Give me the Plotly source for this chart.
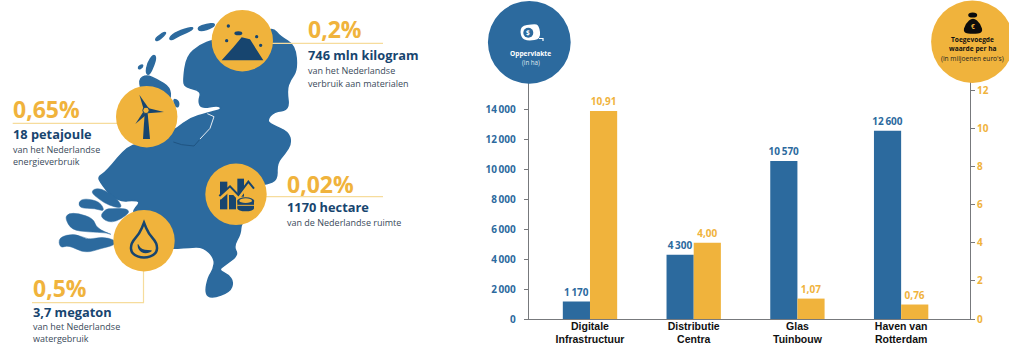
import plotly.graph_objects as go

W, H = 1009, 345

# Bar chart data
categories = ["Digitale<br>Infrastructuur", "Distributie<br>Centra", "Glas<br>Tuinbouw", "Haven van<br>Rotterdam"]
oppervlakte_ha = [1170, 4300, 10570, 12600]
waarde_per_ha = [10.91, 4.00, 1.07, 0.76]
oppervlakte_labels = ["1\u2009170", "4\u2009300", "10\u2009570", "12\u2009600"]
waarde_labels = ["10,91", "4,00", "1,07", "0,76"]
left_ticks = [0, 2000, 4000, 6000, 8000, 10000, 12000, 14000]
left_tick_labels = ["0", "2\u2009000", "4\u2009000", "6\u2009000", "8\u2009000", "10\u2009000", "12\u2009000", "14\u2009000"]
right_ticks = [0, 2, 4, 6, 8, 10, 12]

BLUE = "#2c6a9e"
ORANGE = "#f0b33c"
NAVY = "#17456f"
RULE = "#f6dc9c"
GREY = "#77797c"
BODY = "#3a4a5a"
SANS = "Open Sans"
ARIAL = "Liberation Sans"


def px(x):
    return x / W


def py(y):
    return 1 - y / H


def scaled(points):
    # Outlines are noted at three times pixel size
    return [(x / 3, y / 3) for x, y in points]


def smooth_path(points, closed=True):
    pts = [(px(x), py(y)) for x, y in points]
    if not closed:
        return "M" + " L".join(f"{x:.5f},{y:.5f}" for x, y in pts)
    mids = [((pts[i][0] + pts[(i + 1) % len(pts)][0]) / 2,
             (pts[i][1] + pts[(i + 1) % len(pts)][1]) / 2) for i in range(len(pts))]
    d = f"M{mids[-1][0]:.5f},{mids[-1][1]:.5f}"
    for p, m in zip(pts, mids):
        d += f" Q{p[0]:.5f},{p[1]:.5f} {m[0]:.5f},{m[1]:.5f}"
    return d + " Z"


def poly_path(points):
    return "M" + " L".join(f"{px(x):.5f},{py(y):.5f}" for x, y in points) + " Z"


shapes = []


def add_poly(points, color, smooth=True, swell=0):
    shapes.append(dict(type="path", xref="paper", yref="paper", layer="above",
                       path=smooth_path(points) if smooth else poly_path(points),
                       fillcolor=color, line=dict(width=swell, color=color)))


def add_stroke(points, color, width):
    shapes.append(dict(type="path", xref="paper", yref="paper", layer="above",
                       path=smooth_path(points, closed=False),
                       line=dict(color=color, width=width)))


def add_ellipse(cx, cy, rx, ry, color, line_color=None, line_width=0):
    shapes.append(dict(type="circle", xref="paper", yref="paper", layer="above",
                       x0=px(cx - rx), x1=px(cx + rx), y0=py(cy + ry), y1=py(cy - ry),
                       fillcolor=color,
                       line=dict(color=line_color or color, width=line_width)))


# Map of the Netherlands
MAINLAND = [
    (560, 168), (600, 135), (640, 120), (700, 110), (780, 105), (818, 82), (840, 110), (885, 135),
    (892, 210), (870, 240), (860, 270), (868, 330), (822, 334), (800, 360), (815, 375), (865, 395),
    (874, 430), (855, 460), (830, 490), (832, 540), (800, 552), (770, 555), (760, 620), (722, 672),
    (722, 700), (700, 740), (715, 765), (675, 795), (655, 810), (685, 825), (700, 845), (690, 875),
    (635, 895), (615, 880), (625, 830), (640, 810), (645, 775), (610, 740), (565, 742), (535, 745),
    (490, 745), (440, 740), (390, 640), (425, 605), (395, 600), (370, 605), (335, 590), (300, 545),
    (295, 530), (320, 515), (385, 435), (440, 430), (500, 428), (515, 395), (530, 385), (570, 355),
    (620, 340), (640, 335), (665, 328), (655, 315), (605, 325), (595, 305), (605, 272), (555, 262),
    (550, 240),
]
NOORD_HOLLAND = [(430, 290), (415, 238), (440, 225), (470, 238), (510, 262), (512, 300), (480, 320), (440, 320)]
NH_SLIVER = [(520, 295), (537, 305), (535, 322), (525, 318)]
TEXEL = [(460, 163), (468, 172), (462, 195), (448, 225), (438, 220), (442, 190)]
WADDEN_DOT = [(415, 200), (428, 193), (428, 202), (416, 208)]
VLIELAND = [(465, 115), (495, 95), (498, 102), (470, 125)]
TERSCHELLING = [(508, 112), (530, 95), (578, 80), (578, 90), (540, 105), (512, 122)]
AMELAND = [(592, 82), (620, 73), (645, 70), (640, 82), (600, 95)]
GOEREE = [(270, 575), (295, 562), (340, 585), (365, 615), (360, 625), (325, 615), (300, 600)]
SCHOUWEN = [(235, 605), (255, 595), (300, 605), (315, 635), (285, 625), (240, 625)]
THOLEN = [(318, 626), (298, 650), (335, 672), (390, 640), (380, 625), (335, 626)]
BEVELAND = [(195, 655), (205, 640), (235, 640), (280, 655), (290, 685), (340, 706), (320, 698), (265, 696), (215, 690)]
ZEEUWS_VLAANDEREN = [(175, 712), (225, 700), (265, 720), (305, 710), (345, 720), (345, 735), (305, 745), (255, 760), (205, 735), (180, 745)]
FLEVOLAND_SLIT = [(600, 417), (630, 385), (642, 350), (622, 341)]
FLEVOLAND_SHADE = [(520, 426), (545, 434), (582, 438), (598, 420)]

for outline in (MAINLAND, NOORD_HOLLAND, NH_SLIVER, TEXEL, WADDEN_DOT, VLIELAND, TERSCHELLING, AMELAND):
    add_poly(scaled(outline), BLUE, swell=1.5)
for outline in (GOEREE, SCHOUWEN, THOLEN, BEVELAND, ZEEUWS_VLAANDEREN):
    add_poly(scaled(outline), BLUE, swell=0.5)
add_stroke(scaled(FLEVOLAND_SLIT), "#e8eef4", 1)
add_stroke(scaled(FLEVOLAND_SHADE), "#1f5482", 1)

# Leader rules beside the map
add_stroke([(266, 43.3), (383, 43.3)], RULE, 1.2)
add_stroke([(12.7, 123.3), (117, 123.3)], RULE, 1.2)
add_stroke([(266, 196.7), (383, 196.7)], RULE, 1.2)
add_stroke([(143.5, 268), (143.5, 302.7), (32, 302.7)], RULE, 1.2)

# Yellow discs on the map
for cx, cy in [(242.3, 40.7), (146.7, 116.7), (236, 194.3), (144, 240.7)]:
    add_ellipse(cx, cy, 30.7, 30.7, ORANGE)

# Heap icon
add_poly(scaled([(665, 181), (700, 142), (725, 112), (750, 118), (790, 181)]), NAVY, smooth=False)
for x, y, r in [(685, 78, 5), (770, 110, 5), (680, 122, 5), (782, 136, 5)]:
    add_ellipse(x / 3, y / 3, r / 3, r / 3, NAVY)
add_ellipse(715 / 3, 100 / 3, 12 / 3, 6 / 3, NAVY)

# Wind turbine icon
add_poly(scaled([(434, 340), (443, 340), (450, 417), (429, 417)]), NAVY, smooth=False)
add_poly(scaled([(431, 328), (418, 284), (446, 325)]), NAVY, smooth=False)
add_poly(scaled([(446, 325), (492, 336), (443, 340)]), NAVY, smooth=False)
add_poly(scaled([(430, 335), (406, 372), (438, 345)]), NAVY, smooth=False)
add_ellipse(438 / 3, 331 / 3, 3.2, 3.2, ORANGE, NAVY, 1)

# Bars, trend line and coins icon
add_poly(scaled([(660, 545), (682, 545), (682, 628), (660, 628)]), NAVY, smooth=False)
add_poly(scaled([(687, 585), (708, 585), (708, 628), (687, 628)]), NAVY, smooth=False)
add_poly(scaled([(712, 536), (732, 536), (732, 590), (712, 590)]), NAVY, smooth=False)
add_stroke(scaled([(658, 595), (690, 566), (715, 592), (745, 552), (762, 575)]), ORANGE, 4)
add_stroke(scaled([(658, 588), (690, 559), (715, 585), (745, 545), (762, 566)]), NAVY, 2)
add_poly(scaled([(712, 605), (762, 605), (762, 625), (712, 625)]), NAVY, smooth=False)
add_ellipse(737 / 3, 625 / 3, 25 / 3, 9 / 3, NAVY)
add_ellipse(737 / 3, 603 / 3, 26 / 3, 11 / 3, NAVY)
add_ellipse(737 / 3, 602 / 3, 19 / 3, 7 / 3, ORANGE)
add_stroke(scaled([(712, 616), (762, 616)]), ORANGE, 1)

# Water drop icon, its tip held sharp by the repeated point
DROP = [(432, 668), (432, 668), (432, 668), (445, 700), (472, 730), (470, 762), (432, 776), (394, 762), (392, 730), (419, 700)]
shapes.append(dict(type="path", xref="paper", yref="paper", layer="above",
                   path=smooth_path(scaled(DROP)), fillcolor=ORANGE,
                   line=dict(color=NAVY, width=2.5)))
add_poly(scaled([(412, 726), (424, 750), (464, 750), (436, 763), (414, 750)]), NAVY)

# Header disc of the area axis, with a tape measure
add_ellipse(529.3, 42.3, 41.4, 41.4, BLUE)
add_poly([(520, 26), (534, 24), (539, 25), (541, 39), (528, 41), (521, 38)], "white")
add_ellipse(528.3, 32.7, 5, 5, BLUE)
add_stroke([(539, 38.5), (543, 38.5), (543, 41)], "white", 1.2)

# Header disc of the value axis, with a money bag
add_ellipse(972.3, 41.7, 41.2, 41.2, ORANGE)
add_poly([(973, 17), (981, 24), (983, 33), (973, 34), (963, 33), (965, 24)], "#0c0c0c")
add_ellipse(972.7, 15, 4.5, 2.6, "#0c0c0c")

annotations = []


def add_text(x, y, text, size, color, bold=False, anchor="left", family=SANS):
    annotations.append(dict(xref="paper", yref="paper", x=px(x), y=py(y), text=f"<b>{text}</b>" if bold else text,
                            showarrow=False, xanchor=anchor, yanchor="middle", borderpad=0,
                            font=dict(family=family, size=size, color=color)))


# Map captions
add_text(307, 29, "0,2%", 23, ORANGE, True)
add_text(307, 55, "746 mln kilogram", 12.8, NAVY, True)
add_text(307, 71, "van het Nederlandse", 9, BODY)
add_text(307, 83.5, "verbruik aan materialen", 9, BODY)

add_text(12, 109.5, "0,65%", 23, ORANGE, True)
add_text(12, 134.3, "18 petajoule", 12.8, NAVY, True)
add_text(12, 149, "van het Nederlandse", 9, BODY)
add_text(12, 161.3, "energieverbruik", 9, BODY)

add_text(286, 184, "0,02%", 23, ORANGE, True)
add_text(286, 206.7, "1170 hectare", 12.8, NAVY, True)
add_text(286, 222.3, "van de Nederlandse ruimte", 9, BODY)

add_text(31.5, 288.3, "0,5%", 23, ORANGE, True)
add_text(31.5, 312.3, "3,7 megaton", 12.8, NAVY, True)
add_text(31.5, 326.3, "van het Nederlandse", 9, BODY)
add_text(31.5, 338.7, "watergebruik", 9, BODY)

# Axis header captions
add_text(530.5, 53, "Oppervlakte", 6.6, "white", True, "center")
add_text(530.5, 62.5, "(in ha)", 6.2, "#dfe8f0", False, "center")
add_text(972.5, 39.5, "Toegevoegde", 6.6, "#111111", True, "center")
add_text(972.5, 48.5, "waarde per ha", 6.6, "#111111", True, "center")
add_text(972.5, 58, "(in miljoenen euro's)", 6.6, "#222222", False, "center")
add_text(973, 27, "€", 6.5, ORANGE, True, "center")
add_text(528.3, 32.7, "$", 6.5, "white", True, "center")

BAR_WIDTH = 0.262

fig = go.Figure()
fig.add_trace(go.Bar(x=categories, y=oppervlakte_ha, name="Oppervlakte (in ha)", yaxis="y",
                     width=BAR_WIDTH, offset=-BAR_WIDTH, marker=dict(color=BLUE, line=dict(width=0)),
                     text=oppervlakte_labels, textposition="outside", cliponaxis=False, constraintext="none",
                     textfont=dict(family=SANS, size=10, color=BLUE, weight=700)))
fig.add_trace(go.Bar(x=categories, y=waarde_per_ha, name="Toegevoegde waarde per ha", yaxis="y2",
                     width=BAR_WIDTH, offset=0, marker=dict(color=ORANGE, line=dict(width=0)),
                     text=waarde_labels, textposition="outside", cliponaxis=False, constraintext="none",
                     textfont=dict(family=SANS, size=10, color=ORANGE, weight=700)))

fig.update_layout(
    width=W, height=H, autosize=False,
    margin=dict(l=0, r=0, t=0, b=0),
    paper_bgcolor="white", plot_bgcolor="white",
    showlegend=False,
    shapes=shapes, annotations=annotations,
    xaxis=dict(domain=[px(528.7), px(970)], range=[-0.591, 3.664], type="category", categoryorder="array",
               categoryarray=categories, showgrid=False, zeroline=False, automargin=False,
               showline=True, linecolor=GREY, linewidth=1, ticks="", ticklabelstandoff=-3,
               tickfont=dict(family=ARIAL, size=10.5, color="#111111", weight=700)),
    yaxis=dict(domain=[py(319), py(60)], range=[0, 17324], tickvals=left_ticks, ticktext=left_tick_labels,
               showgrid=False, zeroline=False, showline=True, linecolor=GREY, linewidth=1,
               ticks="outside", ticklen=4, tickcolor=GREY, tickwidth=1, automargin=False,
               ticklabelstandoff=6,
               tickfont=dict(family=SANS, size=10, color=BLUE, weight=700)),
    yaxis2=dict(domain=[py(319), py(60)], range=[0, 13.58], overlaying="y", side="right", anchor="x",
                tickvals=right_ticks, showgrid=False, zeroline=False, showline=True, linecolor=GREY,
                automargin=False, linewidth=1, ticks="outside", ticklen=4, tickcolor=GREY, tickwidth=1,
                tickfont=dict(family=SANS, size=10, color=ORANGE, weight=700)),
)

fig.write_html("out.html")
